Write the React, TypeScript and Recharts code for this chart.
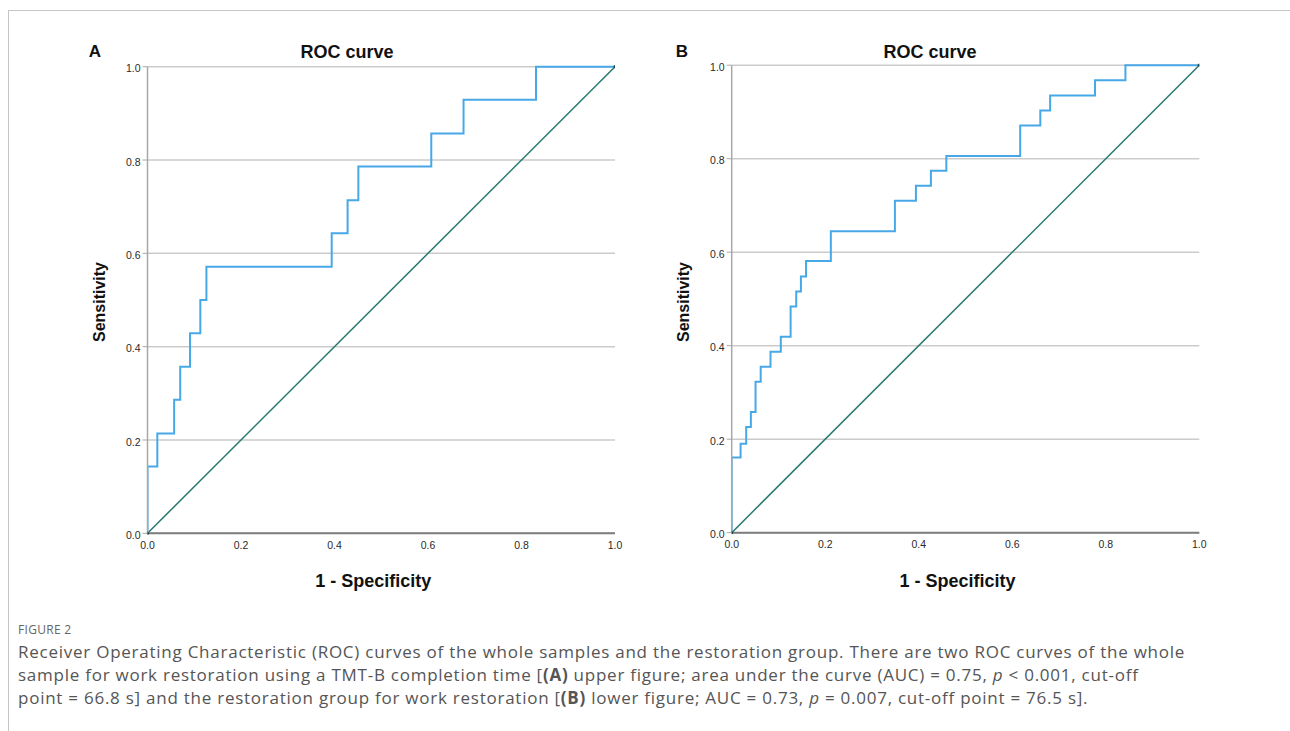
import React from "react";
import {
  LineChart,
  Line,
  XAxis,
  YAxis,
  CartesianGrid,
} from "recharts";

// ─── ROC data ─────────────────────────────────────────────────────────────────
// each point = (1 - specificity where sensitivity jumps, sensitivity after jump)
const fprA = [0, 0, 0.021, 0.057, 0.07, 0.091, 0.113, 0.126, 0.394, 0.428, 0.451, 0.607, 0.676, 0.831, 1.0];
const tprA = [0, 0.143, 0.214, 0.286, 0.357, 0.429, 0.5, 0.571, 0.643, 0.714, 0.786, 0.857, 0.929, 1.0, 1.0];

const fprB = [
  0, 0, 0.019, 0.031, 0.041, 0.051, 0.062, 0.083, 0.105, 0.126, 0.138, 0.148,
  0.159, 0.212, 0.349, 0.394, 0.426, 0.459, 0.617, 0.66, 0.681, 0.777, 0.842, 1.0,
];
const tprB = [
  0, 0.161, 0.19, 0.226, 0.258, 0.323, 0.355, 0.387, 0.419, 0.484, 0.516, 0.548,
  0.581, 0.645, 0.71, 0.742, 0.774, 0.806, 0.871, 0.903, 0.935, 0.968, 1.0, 1.0,
];

const refX = [0, 1];
const refY = [0, 1];

const axisTicks = [0, 0.2, 0.4, 0.6, 0.8, 1.0];

const toRows = (xs: number[], ys: number[]) => xs.map((x, i) => ({ x, y: ys[i] }));

const FONT = "'Liberation Sans', Arial, sans-serif";

// ─── One ROC panel ────────────────────────────────────────────────────────────
function RocPanel({ left, plotLeft, plotTop, plotRight, plotBottom, letter, titleX, letterX, fpr, tpr }: any) {
  const H = 600;
  const yAxisW = 40;
  const xAxisH = 30;
  const width = plotRight + 20 - left;
  const margin = {
    top: plotTop,
    right: 20,
    left: plotLeft - left - yAxisW,
    bottom: H - plotBottom - xAxisH,
  };
  return (
    <>
      <div style={{ position: "absolute", left: letterX - 10, top: 42, width: 20, textAlign: "center", fontFamily: FONT, fontWeight: 700, fontSize: 17, color: "#111" }}>
        {letter}
      </div>
      <div style={{ position: "absolute", left: titleX - 80, top: 42, width: 160, textAlign: "center", fontFamily: FONT, fontWeight: 700, fontSize: 18, color: "#111" }}>
        ROC curve
      </div>
      <div style={{ position: "absolute", left: left, top: 0 }}>
        <LineChart width={width} height={H} margin={margin}>
          <CartesianGrid vertical={false} stroke="#cbcbcb" strokeWidth={1.5} />
          <XAxis
            dataKey="x"
            type="number"
            domain={[0, 1]}
            ticks={axisTicks}
            tickFormatter={(v: number) => v.toFixed(1)}
            height={xAxisH}
            axisLine={{ stroke: "#7d7d7d", strokeWidth: 2 }}
            tickLine={false}
            tick={{ fill: "#2a2a2a", fontSize: 10.5, fontFamily: FONT }}
            allowDataOverflow
          />
          <YAxis
            type="number"
            domain={[0, 1]}
            ticks={axisTicks}
            tickFormatter={(v: number) => v.toFixed(1)}
            width={yAxisW}
            axisLine={{ stroke: "#a8a8a8", strokeWidth: 1.5 }}
            tickLine={{ stroke: "#a8a8a8" }}
            tickSize={5}
            tick={{ fill: "#2a2a2a", fontSize: 10.5, fontFamily: FONT, dy: 2 }}
          />
          <Line
            data={toRows(refX, refY)}
            dataKey="y"
            type="linear"
            stroke="#27786f"
            strokeWidth={1.5}
            dot={{ r: 1.6, fill: "#1d4a45", stroke: "none" }}
            isAnimationActive={false}
          />
          <Line
            data={toRows(fpr, tpr)}
            dataKey="y"
            type="stepAfter"
            stroke="#47a8e8"
            strokeWidth={2}
            dot={false}
            isAnimationActive={false}
          />
        </LineChart>
      </div>
      <div style={{ position: "absolute", left: (plotLeft + plotRight) / 2 - 8 - 100, top: 571, width: 200, textAlign: "center", fontFamily: FONT, fontWeight: 700, fontSize: 18, color: "#111" }}>
        1 - Specificity
      </div>
      <div
        style={{
          position: "absolute",
          left: plotLeft - 48 - 50,
          top: 302 - 10,
          width: 100,
          height: 20,
          lineHeight: "20px",
          textAlign: "center",
          transform: "rotate(-90deg)",
          fontFamily: FONT,
          fontWeight: 700,
          fontSize: 16,
          color: "#111",
        }}
      >
        Sensitivity
      </div>
    </>
  );
}

// ─── Figure ───────────────────────────────────────────────────────────────────
export default function App() {
  const cap = {
    fontFamily: "'Open Sans', 'Noto Sans', sans-serif",
    fontSize: 17,
    letterSpacing: 0.75,
    color: "#555",
    whiteSpace: "nowrap" as const,
    lineHeight: "23px",
  };
  return (
    <div style={{ position: "absolute", left: 0, top: 0, width: 1290, height: 731, background: "#fff", overflow: "hidden" }}>
      <div style={{ position: "absolute", left: 8, top: 10, width: 1290, height: 731, borderTop: "1.5px solid #c6c6c6", borderLeft: "1.5px solid #c6c6c6" }} />

      <RocPanel left={60} plotLeft={147.5} plotTop={66.7} plotRight={615} plotBottom={533.3} letter="A" letterX={95} titleX={347} fpr={fprA} tpr={tprA} />
      <RocPanel left={644} plotLeft={731.7} plotTop={65.2} plotRight={1199.3} plotBottom={532.7} letter="B" letterX={682} titleX={930} fpr={fprB} tpr={tprB} />

      <div style={{ position: "absolute", left: 18, top: 621, fontFamily: "'Open Sans', sans-serif", fontSize: 12, color: "#666", letterSpacing: 0.3 }}>
        FIGURE 2
      </div>
      <div style={{ position: "absolute", left: 18, top: 640, ...cap }}>
        <div>Receiver Operating Characteristic (ROC) curves of the whole samples and the restoration group. There are two ROC curves of the whole</div>
        <div>
          sample for work restoration using a TMT-B completion time [<b>(A)</b> upper figure; area under the curve (AUC) = 0.75, <i>p</i> &lt; 0.001, cut-off
        </div>
        <div>
          point = 66.8 s] and the restoration group for work restoration [<b>(B)</b> lower figure; AUC = 0.73, <i>p</i> = 0.007, cut-off point = 76.5 s].
        </div>
      </div>
    </div>
  );
}
